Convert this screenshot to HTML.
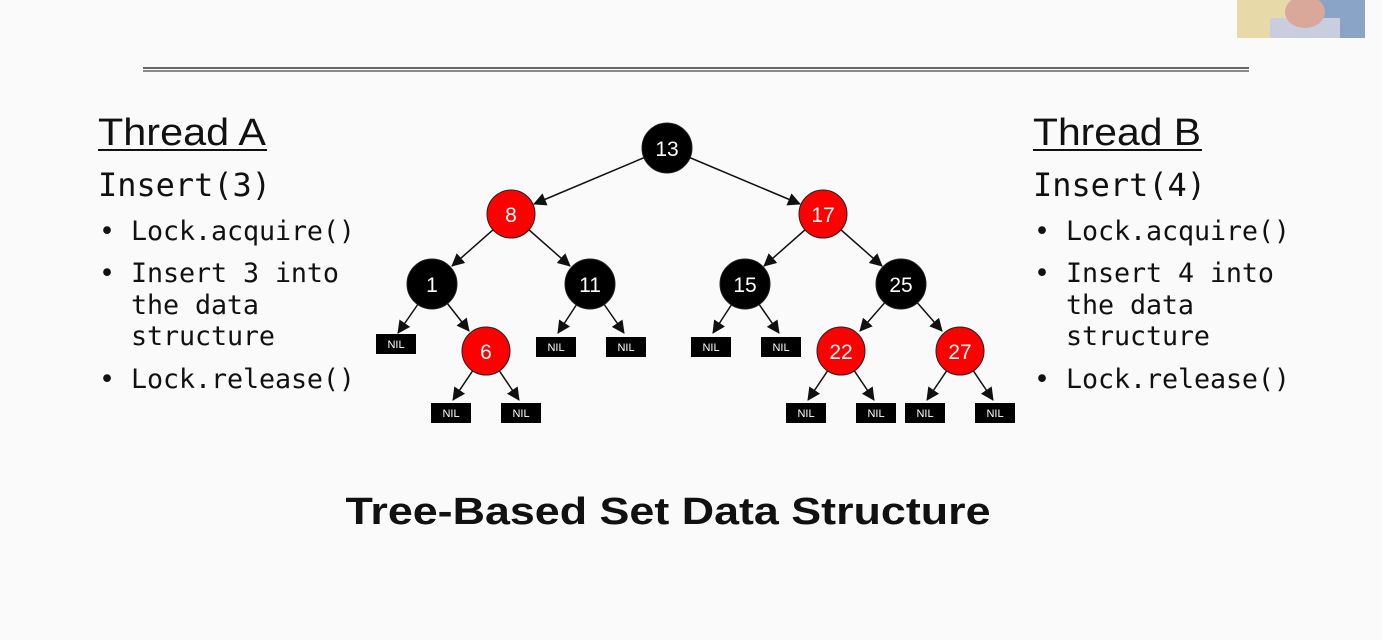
<!DOCTYPE html>
<html><head><meta charset="utf-8"><style>
html,body{margin:0;padding:0;background:#fafafa;width:1382px;height:640px;overflow:hidden}
svg{display:block}
.t{font-family:"Liberation Sans",sans-serif;font-size:38px;fill:#111}
.m{font-family:"DejaVu Sans Mono","Liberation Mono",monospace;fill:#111}
.n{font-family:"Liberation Sans",sans-serif;font-size:21px;fill:#fff;text-anchor:middle}
.nil{font-family:"Liberation Sans",sans-serif;font-size:11px;fill:#fff;text-anchor:middle}
</style></head><body>
<svg width="1382" height="640" viewBox="0 0 1382 640">
<defs><marker id="a" markerWidth="13" markerHeight="13" refX="12" refY="6.5" orient="auto" markerUnits="userSpaceOnUse"><path d="M0,0 L13,6.5 L0,13 z" fill="#111"/></marker></defs>
<rect x="1237" y="0" width="128" height="38" fill="#8aa4c8"/>
<rect x="1237" y="0" width="60" height="38" fill="#e8d9a8"/>
<rect x="1270" y="18" width="70" height="20" fill="#c8cde0"/>
<ellipse cx="1305" cy="12" rx="20" ry="16" fill="#d9a89a"/>
<rect x="143" y="67" width="1106" height="2" fill="#666"/>
<rect x="143" y="70" width="1106" height="2" fill="#888"/>
<g stroke="#111" stroke-width="1.5" marker-end="url(#a)">
<line x1="667" y1="148" x2="534" y2="204"/>
<line x1="667" y1="148" x2="800" y2="204"/>
<line x1="511" y1="214" x2="452" y2="266"/>
<line x1="511" y1="214" x2="570" y2="266"/>
<line x1="823" y1="214" x2="764" y2="266"/>
<line x1="823" y1="214" x2="882" y2="266"/>
<line x1="432" y1="284" x2="398" y2="333"/>
<line x1="432" y1="284" x2="469" y2="331"/>
<line x1="590" y1="284" x2="558" y2="333"/>
<line x1="590" y1="284" x2="624" y2="333"/>
<line x1="745" y1="284" x2="713" y2="333"/>
<line x1="745" y1="284" x2="779" y2="333"/>
<line x1="901" y1="284" x2="860" y2="331"/>
<line x1="901" y1="284" x2="942" y2="331"/>
<line x1="486" y1="351" x2="453" y2="400"/>
<line x1="486" y1="351" x2="519" y2="400"/>
<line x1="841" y1="351" x2="808" y2="400"/>
<line x1="841" y1="351" x2="874" y2="400"/>
<line x1="960" y1="351" x2="927" y2="400"/>
<line x1="960" y1="351" x2="993" y2="400"/>
</g>
<g stroke="#222" stroke-width="1">
<circle cx="667" cy="148" r="25" fill="#000"/>
<circle cx="511" cy="214" r="24" fill="#f00"/>
<circle cx="823" cy="214" r="24" fill="#f00"/>
<circle cx="432" cy="284" r="25" fill="#000"/>
<circle cx="590" cy="284" r="25" fill="#000"/>
<circle cx="745" cy="284" r="25" fill="#000"/>
<circle cx="901" cy="284" r="25" fill="#000"/>
<circle cx="486" cy="351" r="24" fill="#f00"/>
<circle cx="841" cy="351" r="24" fill="#f00"/>
<circle cx="960" cy="351" r="24" fill="#f00"/>
</g>
<g class="n">
<text x="667" y="156">13</text><text x="511" y="222">8</text><text x="823" y="222">17</text>
<text x="432" y="292">1</text><text x="590" y="292">11</text><text x="745" y="292">15</text>
<text x="901" y="292">25</text><text x="486" y="359">6</text><text x="841" y="359">22</text><text x="960" y="359">27</text>
</g>
<g fill="#000">
<rect x="376" y="334" width="40" height="20"/><rect x="536" y="337" width="40" height="20"/>
<rect x="606" y="337" width="40" height="20"/><rect x="691" y="337" width="40" height="20"/>
<rect x="761" y="337" width="40" height="20"/><rect x="431" y="403" width="40" height="20"/>
<rect x="501" y="403" width="40" height="20"/><rect x="786" y="403" width="40" height="20"/>
<rect x="856" y="403" width="40" height="20"/><rect x="905" y="403" width="40" height="20"/>
<rect x="975" y="403" width="40" height="20"/>
</g>
<g class="nil">
<text x="396" y="348">NIL</text><text x="556" y="351">NIL</text><text x="626" y="351">NIL</text>
<text x="711" y="351">NIL</text><text x="781" y="351">NIL</text><text x="451" y="417">NIL</text>
<text x="521" y="417">NIL</text><text x="806" y="417">NIL</text><text x="876" y="417">NIL</text>
<text x="925" y="417">NIL</text><text x="995" y="417">NIL</text>
</g>
<text class="t" x="98" y="145" textLength="168" lengthAdjust="spacingAndGlyphs">Thread A</text>
<rect x="98" y="149" width="169" height="2" fill="#111"/>
<text class="m" x="98" y="196" font-size="32" textLength="173" lengthAdjust="spacingAndGlyphs">Insert(3)</text>
<g class="m" font-size="26.7">
<text x="99" y="240">•</text><text x="131" y="240" textLength="224">Lock.acquire()</text>
<text x="99" y="282">•</text><text x="131" y="282" textLength="208">Insert 3 into</text>
<text x="131" y="314" textLength="128">the data</text><text x="131" y="345" textLength="144">structure</text>
<text x="99" y="388">•</text><text x="131" y="388" textLength="224">Lock.release()</text>
</g>
<text class="t" x="1033" y="145" textLength="168" lengthAdjust="spacingAndGlyphs">Thread B</text>
<rect x="1033" y="149" width="169" height="2" fill="#111"/>
<text class="m" x="1033" y="196" font-size="32" textLength="173" lengthAdjust="spacingAndGlyphs">Insert(4)</text>
<g class="m" font-size="26.7">
<text x="1034" y="240">•</text><text x="1066" y="240" textLength="224">Lock.acquire()</text>
<text x="1034" y="282">•</text><text x="1066" y="282" textLength="208">Insert 4 into</text>
<text x="1066" y="314" textLength="128">the data</text><text x="1066" y="345" textLength="144">structure</text>
<text x="1034" y="388">•</text><text x="1066" y="388" textLength="224">Lock.release()</text>
</g>
<text x="668" y="524" text-anchor="middle" font-family="'Liberation Sans',sans-serif" font-weight="bold" font-size="38" fill="#111" textLength="645" lengthAdjust="spacingAndGlyphs">Tree-Based Set Data Structure</text>
</svg>
</body></html>
